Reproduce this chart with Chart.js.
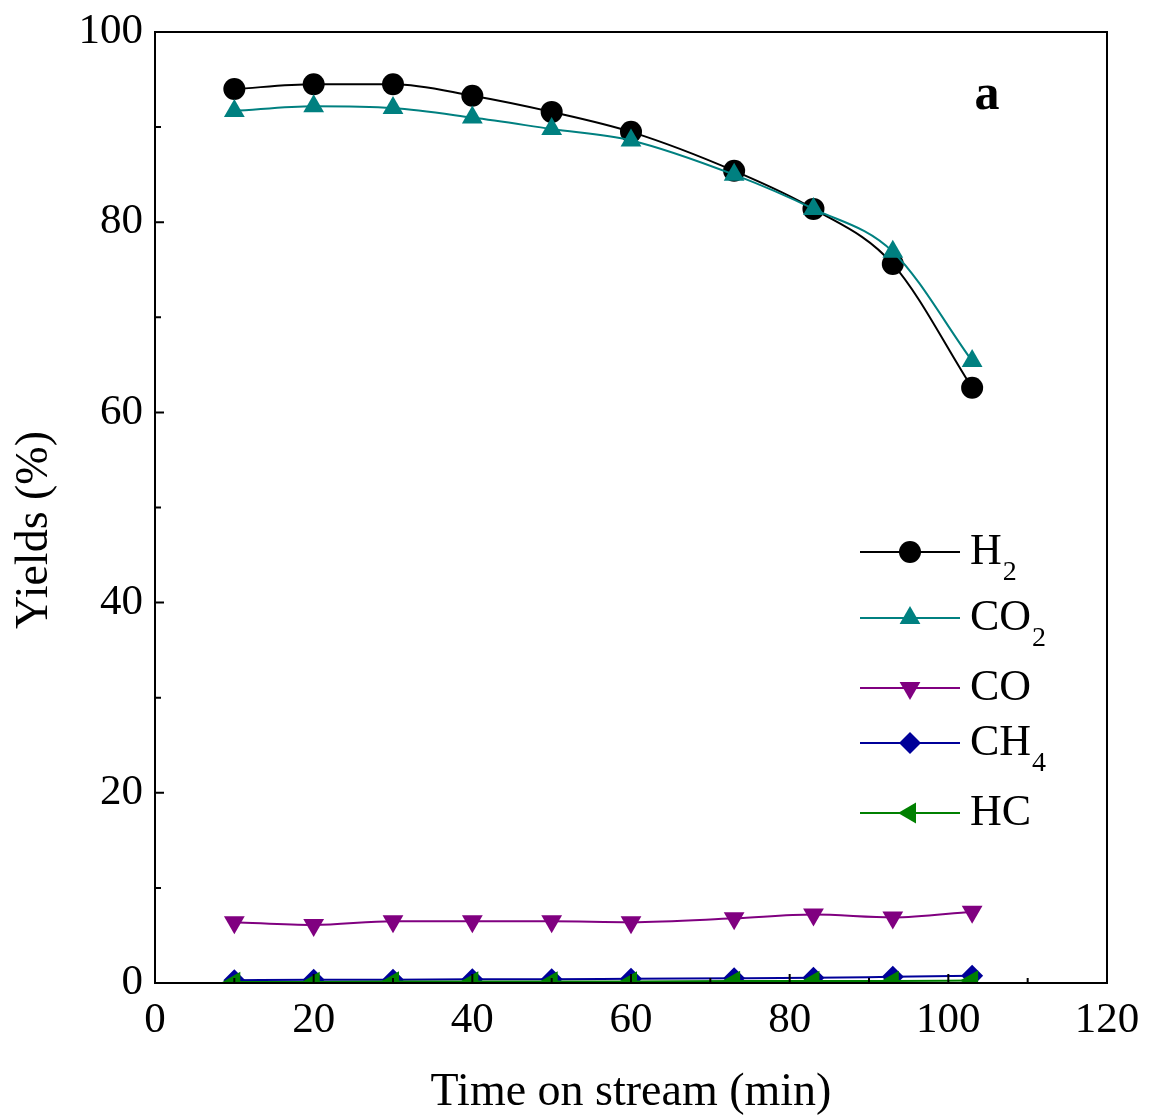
<!DOCTYPE html>
<html lang="en">

<head>
  <meta charset="UTF-8">
  <title>Yields vs time on stream</title>
  <script src="https://cdn.jsdelivr.net/npm/chart.js"></script>
  <style>
    html, body { margin: 0; padding: 0; background: #fff; }
    #wrap { width: 1149px; height: 1119px; }
  </style>
</head>

<body>
  <div id="wrap"><canvas id="graphique" width="1149" height="1119"></canvas></div>

  <script>
    // data
    const temps = [10, 20, 30, 40, 50, 60, 73, 83, 93, 103];
    const h2  = [94.0, 94.5, 94.5, 93.3, 91.6, 89.5, 85.4, 81.4, 75.6, 62.6];
    const co2 = [91.7, 92.2, 92.0, 91.0, 89.8, 88.6, 85.0, 81.4, 76.9, 65.4];
    const co  = [6.4, 6.1, 6.5, 6.5, 6.5, 6.4, 6.8, 7.2, 6.9, 7.5];
    const ch4 = [0.3, 0.35, 0.35, 0.4, 0.4, 0.45, 0.5, 0.55, 0.65, 0.75];
    const hc  = [0.1, 0.1, 0.15, 0.15, 0.15, 0.15, 0.2, 0.2, 0.2, 0.25];

    const noms = ['H', 'CO', 'CO', 'CH', 'HC'];
    const indices = ['2', '2', '', '4', ''];
    const couleurs = ['#000000', '#008080', '#800080', '#000099', '#008000'];
    const formes = ['circle', 'triangle', 'triangle', 'rectRot', 'triangle'];
    const rotations = [0, 0, 180, 0, -90];
    const rayons = [11, 12, 12, 11, 12];

    const xTicks = [0, 20, 40, 60, 80, 100, 120];
    const yTicks = [0, 20, 40, 60, 80, 100];

    const police = '"Liberation Serif", "Times New Roman", serif';

    const series = [h2, co2, co, ch4, hc];
    const datasets = series.map((vals, i) => ({
      label: noms[i] + indices[i],
      data: temps.map((t, k) => ({ x: t, y: vals[k] })),
      borderColor: couleurs[i],
      backgroundColor: couleurs[i],
      borderWidth: 2,
      pointStyle: formes[i],
      pointRotation: rotations[i],
      pointRadius: rayons[i],
      pointBorderWidth: 0,
      cubicInterpolationMode: 'monotone',
      fill: false,
      order: 5 - i
    }));

    // pas de débordement des étiquettes : la zone du graphe suit le padding
    const sansMarge = s => {
      s.paddingLeft = 0; s.paddingRight = 0;
      s.paddingTop = 0; s.paddingBottom = 0;
    };

    // cadre, graduations vers l'intérieur, titre Y, légende et lettre "a"
    const decor = {
      id: 'decor',
      afterDraw(chart) {
        const c = chart.ctx;
        const a = chart.chartArea;
        const sx = chart.scales.x, sy = chart.scales.y;
        c.save();
        c.strokeStyle = '#000';
        c.lineWidth = 2;
        c.strokeRect(a.left, a.top, a.right - a.left, a.bottom - a.top);

        c.beginPath();
        for (let v = 0; v <= 120; v += 10) {
          const px = sx.getPixelForValue(v);
          const len = v % 20 === 0 ? 9 : 5;
          c.moveTo(px, a.bottom);
          c.lineTo(px, a.bottom - len);
        }
        for (let v = 0; v <= 100; v += 10) {
          const py = sy.getPixelForValue(v);
          const len = v % 20 === 0 ? 9 : 6;
          c.moveTo(a.left, py);
          c.lineTo(a.left + len, py);
        }
        c.stroke();

        // titre de l'axe Y (décalé vers le bas comme sur l'original)
        c.fillStyle = '#000';
        c.save();
        c.translate(35, 530);
        c.rotate(-Math.PI / 2);
        c.font = '46px ' + police;
        c.textAlign = 'center';
        c.textBaseline = 'middle';
        c.fillText('Yields (%)', 0, 0);
        c.restore();

        // lettre du panneau
        c.font = 'bold 50px ' + police;
        c.textAlign = 'center';
        c.textBaseline = 'middle';
        c.fillText('a', 987, 96);

        // légende
        const lignes = [552, 618, 688, 743, 813];
        chart.data.datasets.forEach((ds, i) => {
          const y = lignes[i];
          c.strokeStyle = ds.borderColor;
          c.lineWidth = 2;
          c.beginPath();
          c.moveTo(860, y);
          c.lineTo(960, y);
          c.stroke();
          c.fillStyle = ds.backgroundColor;
          Chart.helpers.drawPoint(c, {
            pointStyle: ds.pointStyle,
            rotation: ds.pointRotation,
            radius: ds.pointRadius,
            borderWidth: 0
          }, 910, y);

          c.fillStyle = '#000';
          c.textAlign = 'left';
          c.textBaseline = 'middle';
          c.font = '44px ' + police;
          c.fillText(noms[i], 970, y);
          if (indices[i]) {
            const w = c.measureText(noms[i]).width;
            c.font = '28px ' + police;
            c.fillText(indices[i], 970 + w + 1, y + 21);
          }
        });
        c.restore();
      }
    };

    const ctx = document.getElementById('graphique').getContext('2d');
    new Chart(ctx, {
      type: 'line',
      data: { datasets: datasets },
      options: {
        responsive: false,
        animation: false,
        layout: { padding: { top: 32, right: 42, left: 0, bottom: 0 } },
        plugins: {
          legend: { display: false },
          tooltip: { enabled: false }
        },
        scales: {
          x: {
            type: 'linear',
            min: 0,
            max: 120,
            afterFit: s => { s.height = 136; sansMarge(s); },
            afterBuildTicks: s => { s.ticks = xTicks.map(v => ({ value: v })); },
            grid: { display: false, drawTicks: false },
            border: { display: false },
            ticks: {
              padding: 12,
              color: '#000',
              font: { family: police, size: 43 },
              maxRotation: 0
            },
            title: {
              display: true,
              text: 'Time on stream (min)',
              color: '#000',
              font: { family: police, size: 46 },
              padding: { top: 0, bottom: -2 }
            }
          },
          y: {
            min: 0,
            max: 100,
            afterFit: s => { s.width = 155; sansMarge(s); },
            afterBuildTicks: s => { s.ticks = yTicks.map(v => ({ value: v })); },
            grid: { display: false, drawTicks: false },
            border: { display: false },
            ticks: {
              padding: 12,
              color: '#000',
              font: { family: police, size: 43 }
            },
            title: { display: false }
          }
        }
      },
      plugins: [decor]
    });
  </script>
</body>

</html>
